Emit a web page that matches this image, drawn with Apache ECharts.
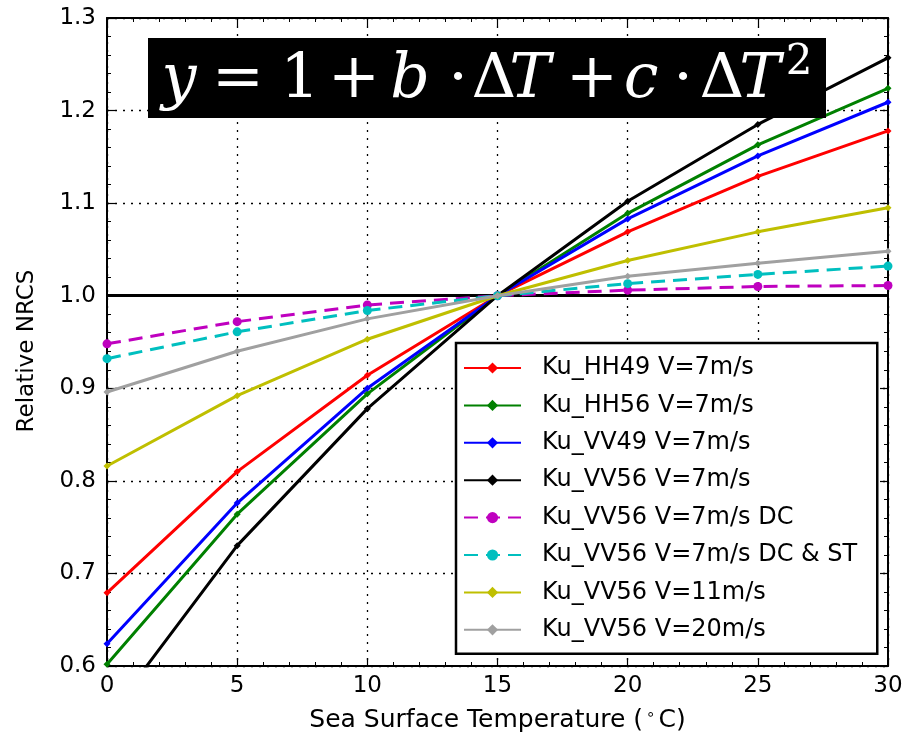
<!DOCTYPE html>
<html>
<head>
<meta charset="utf-8">
<script src="https://cdn.jsdelivr.net/npm/echarts@6/dist/echarts.min.js"></script>
<style>
html,body{margin:0;padding:0;background:#fff;}
#chart{width:912px;height:744px;}
</style>
</head>
<body>
<div id="chart"></div>
<script>
// ---- data ----
const xs = [0, 5, 10, 15, 20, 25, 30];
const seriesNames = [
  'Ku_HH49 V=7m/s',
  'Ku_HH56 V=7m/s',
  'Ku_VV49 V=7m/s',
  'Ku_VV56 V=7m/s',
  'Ku_VV56 V=7m/s DC',
  'Ku_VV56 V=7m/s DC & ST',
  'Ku_VV56 V=11m/s',
  'Ku_VV56 V=20m/s'
];
const hh49_7   = [0.679, 0.810, 0.914, 1.0, 1.069, 1.129, 1.178];
const hh56_7   = [0.602, 0.764, 0.894, 1.0, 1.089, 1.163, 1.224];
const vv49_7   = [0.624, 0.776, 0.900, 1.0, 1.083, 1.151, 1.209];
const vv56_7   = [0.543, 0.730, 0.878, 1.0, 1.102, 1.185, 1.257];
const vv56_dc  = [0.948, 0.972, 0.990, 1.0, 1.006, 1.010, 1.011];
const vv56_dcst= [0.932, 0.961, 0.984, 1.0, 1.013, 1.023, 1.032];
const vv56_11  = [0.816, 0.892, 0.953, 1.0, 1.038, 1.069, 1.095];
const vv56_20  = [0.896, 0.940, 0.975, 1.0, 1.021, 1.035, 1.048];
const allValues = [hh49_7, hh56_7, vv49_7, vv56_7, vv56_dc, vv56_dcst, vv56_11, vv56_20];
const colors = ['#ff0000', '#008000', '#0000ff', '#000000', '#bf00bf', '#00bfbf', '#bfbf00', '#a0a0a0'];
const dashed = [false, false, false, false, true, true, false, false];
const xTicks = {min: 0, max: 30, interval: 5};
const yTicks = {min: 0.6, max: 1.3, interval: 0.1};
const referenceLevel = 1.0;
const xTitle = 'Sea Surface Temperature (';
const yTitle = 'Relative NRCS';

// equation tokens (text, x centre, font kind)
const eqTokens = [
  ['y', 179, 'i'], ['=', 238, 'n'], ['1', 300, 'n'], ['+', 354, 'n'],
  ['b', 410, 'i'], ['\u00b7', 458, 'n'], ['\u0394', 494, 'n'], ['T', 530, 'i'],
  ['+', 592, 'n'], ['c', 641, 'i'], ['\u00b7', 683, 'n'], ['\u0394', 722, 'n'],
  ['T', 760, 'i'], ['2', 799, 's']
];

const chart = echarts.init(document.getElementById('chart'));
const F = 'DejaVu Sans';

const series = seriesNames.map((name, i) => {
  const s = {
    type: 'line',
    name: name,
    xAxisIndex: 0, yAxisIndex: 0,
    data: xs.map((x, j) => [x, allValues[i][j]]),
    symbol: dashed[i] ? 'circle' : 'diamond',
    symbolSize: dashed[i] ? 9 : 7,
    showSymbol: true,
    clip: true,
    animation: false,
    lineStyle: {color: colors[i], width: 3, type: dashed[i] ? [14, 8] : 'solid'},
    itemStyle: {color: colors[i], borderWidth: 0},
    emphasis: {disabled: true},
    z: 3 + i
  };
  if (i === 0) {
    s.markLine = {
      silent: true,
      symbol: ['none', 'none'],
      label: {show: false},
      lineStyle: {color: '#000', width: 2.8, type: 'solid'},
      data: [{yAxis: referenceLevel}],
      animation: false
    };
  }
  return s;
});

const eqGraphics = [{
  type: 'rect', left: 148, top: 38, shape: {width: 678, height: 80},
  style: {fill: '#000'}, z: 100
}].concat(eqTokens.map(t => ({
  type: 'text', z: 101,
  x: t[1], y: t[2] === 's' ? 63 : 81,
  style: {
    text: t[0], fill: '#fff',
    font: (t[2] === 'i' ? 'italic ' : '') + (t[2] === 's' ? '42px' : '62px') + ' "DejaVu Serif"',
    align: 'center', verticalAlign: 'middle'
  }
})));

const baseAxisLine = {onZero: false, lineStyle: {color: '#000', width: 2}};
const tick = {inside: true, length: 8, lineStyle: {color: '#000', width: 1.2}};
const minor = {show: true, splitNumber: 5, length: 4, lineStyle: {color: '#000', width: 1}};
const grid = {show: true, lineStyle: {color: '#000', type: [2, 6], width: 1.3}};

chart.setOption({
  backgroundColor: '#fff',
  animation: false,
  grid: {left: 107, right: 24, top: 18, bottom: 78, containLabel: false},
  xAxis: [{
    type: 'value', min: xTicks.min, max: xTicks.max, interval: xTicks.interval,
    position: 'bottom',
    axisLine: baseAxisLine, axisTick: tick, minorTick: minor, splitLine: grid,
    axisLabel: {color: '#000', fontSize: 23, fontFamily: F, margin: 9},
    name: xTitle + '{sup|\u2218}C)', nameLocation: 'middle', nameGap: 42,
    nameTextStyle: {color: '#000', fontSize: 25, fontFamily: F,
      rich: {sup: {fontSize: 15, fontFamily: F, color: '#000', padding: [0, 3, 10, 3]}}}
  }, {
    type: 'value', min: xTicks.min, max: xTicks.max, interval: xTicks.interval,
    position: 'top',
    axisLine: baseAxisLine, axisTick: tick, minorTick: minor,
    splitLine: {show: false}, axisLabel: {show: false}
  }],
  yAxis: [{
    type: 'value', min: yTicks.min, max: yTicks.max, interval: yTicks.interval,
    position: 'left',
    axisLine: baseAxisLine, axisTick: tick, minorTick: minor, splitLine: grid,
    axisLabel: {color: '#000', fontSize: 23, fontFamily: F, margin: 11,
      formatter: v => v.toFixed(1)},
    name: yTitle, nameLocation: 'middle', nameGap: 68,
    nameTextStyle: {color: '#000', fontSize: 23, fontFamily: F, padding: [0, 0, 0, -18]}
  }, {
    type: 'value', min: yTicks.min, max: yTicks.max, interval: yTicks.interval,
    position: 'right',
    axisLine: baseAxisLine, axisTick: tick, minorTick: minor,
    splitLine: {show: false}, axisLabel: {show: false}
  }],
  legend: {
    orient: 'vertical', left: 456, top: 343,
    data: seriesNames,
    backgroundColor: '#fff', borderColor: '#000', borderWidth: 2.5,
    padding: [13, 20, 12, 7],
    itemWidth: 57, itemHeight: 14, itemGap: 13.4,
    textStyle: {color: '#000', fontSize: 24, fontFamily: F, padding: [0, 0, 0, 16]},
    selectedMode: false, z: 50
  },
  graphic: eqGraphics,
  series: series
});
</script>
</body>
</html>
